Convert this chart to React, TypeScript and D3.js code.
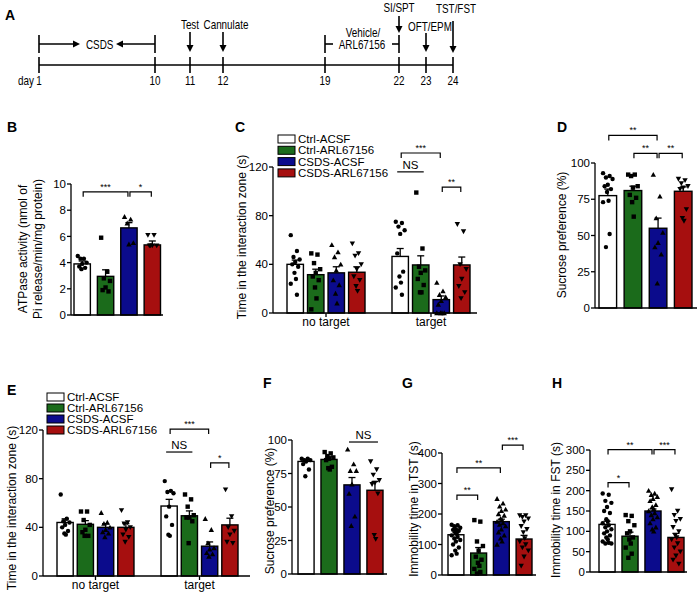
import React from "react";
import * as d3 from "d3";

const FONT = "'Liberation Sans', Arial, Helvetica, sans-serif";

const groupNames = ["Ctrl-ACSF", "Ctrl-ARL67156", "CSDS-ACSF", "CSDS-ARL67156"];
const groupColors = ["#ffffff", "#1b6b1b", "#0b0b8c", "#a60f0f"];
const groupShapes = ["circle", "square", "triUp", "triDown"];

// ---- Panel A timeline
const timelineDays = [1, 10, 11, 12, 19, 22, 23, 24];
const timelineLayout = [39, 155, 190, 223, 325, 399, 426, 453];

// ---- Panel B
const bMeans = [3.9, 2.95, 6.65, 5.35];
const bSems = [0.22, 0.5, 0.4, 0.3];
const bPoints = [
  [4.5, 4.3, 4.3, 4.0, 3.9, 3.7, 3.6, 3.5],
  [5.9, 3.3, 2.8, 2.6, 2.1, 1.9, 1.8],
  [7.5, 7.3, 7.0, 5.5, 5.4],
  [6.1, 6.1, 5.3, 5.3, 5.3, 5.3],
];
const bTicks = [0, 2, 4, 6, 8, 10];

// ---- Panel C
const cNoTargetMeans = [40, 31.5, 33, 33.5];
const cNoTargetSems = [3.5, 4.5, 5, 4.5];
const cNoTargetPoints = [
  [64, 51, 46, 44, 42, 40, 38, 33, 28, 24, 15],
  [49, 48, 41, 36, 33, 30, 27, 21, 12, 3],
  [56, 50, 46, 40, 35, 27, 23, 16, 8],
  [57, 49, 47, 40, 36, 30, 27, 22, 18],
];
const cTargetMeans = [46.5, 39.5, 11, 39.5];
const cTargetSems = [6.5, 7.5, 3, 6.5];
const cTargetPoints = [
  [75, 74, 71, 68, 65, 49, 34, 30, 25, 21, 15],
  [99, 53, 38, 35, 33, 28, 23, 17, 17],
  [25, 18, 15, 13, 10, 7, 0, 0, 0, 0],
  [73, 67, 40, 36, 28, 22, 17, 12],
];
const interactionTicks = [0, 40, 80, 120];

// ---- Panel D
const dMeans = [77.5, 81, 55, 80.5];
const dSems = [4.5, 3, 7, 3];
const dPoints = [
  [93, 91, 90, 89, 85, 84, 82, 80, 74, 73, 51, 42],
  [92, 92, 91, 84, 83, 78, 76, 73, 63],
  [92, 77, 62, 52, 45, 42, 37, 17],
  [89, 88, 86, 84, 83, 82, 68, 62, 60],
];
const sucroseTicks = [0, 25, 50, 75, 100];

// ---- Panel E
const eNoTargetMeans = [44, 42.5, 40, 40];
const eNoTargetSems = [3, 3, 3, 3];
const eNoTargetPoints = [
  [67, 47, 45, 44, 42, 40, 37, 35, 34],
  [53, 53, 46, 42, 38, 36, 33, 33],
  [52, 44, 43, 40, 38, 36, 35, 32],
  [54, 44, 43, 40, 38, 34, 32, 28],
];
const eTargetMeans = [57.5, 49.5, 24.5, 42];
const eTargetSems = [5.5, 4, 3.5, 5.5];
const eTargetPoints = [
  [78, 70, 69, 68, 57, 49, 42, 34, 33],
  [67, 63, 57, 50, 48, 48, 45, 27],
  [47, 38, 27, 23, 22, 19, 18, 16],
  [71, 49, 40, 37, 34, 28, 27],
];

// ---- Panel F
const fMeans = [84, 85.5, 66.5, 62.5];
const fSems = [1.5, 2, 5.5, 6.5];
const fPoints = [
  [86, 86, 85, 85, 84, 82, 78, 73],
  [91, 90, 88, 87, 86, 85, 80, 79, 78],
  [93, 82, 77, 77, 67, 60, 43, 36],
  [84, 78, 74, 70, 68, 67, 60, 29, 26],
];

// ---- Panel G
const gMeans = [132, 72, 175, 118];
const gSems = [7, 18, 8, 12];
const gPoints = [
  [165, 163, 160, 155, 150, 148, 145, 140, 135, 130, 125, 120, 115, 110, 100, 90, 80, 70, 65],
  [180, 175, 110, 95, 80, 60, 50, 40, 30, 20, 10, 5],
  [250, 235, 225, 215, 210, 200, 195, 185, 180, 175, 170, 165, 160, 150, 140, 130, 120, 110, 100],
  [195, 195, 190, 185, 175, 160, 150, 140, 120, 110, 100, 90, 80, 60, 30],
];
const gTicks = [0, 100, 200, 300, 400];

// ---- Panel H
const hMeans = [117, 88, 150, 85];
const hSems = [8, 10, 5, 10];
const hPoints = [
  [193, 190, 175, 170, 160, 150, 145, 130, 125, 120, 115, 110, 105, 100, 95, 90, 85, 80, 75, 72, 70, 70],
  [140, 138, 125, 115, 100, 95, 85, 80, 70, 60, 45, 35],
  [200, 193, 190, 185, 180, 175, 165, 160, 155, 150, 145, 140, 135, 130, 120, 110, 105, 100],
  [203, 150, 140, 130, 125, 110, 100, 90, 85, 80, 70, 60, 50, 40, 30, 20],
];
const hTicks = [0, 50, 100, 150, 200, 250, 300];

type Cluster = { label: string; means: number[]; sems: number[]; points: number[][] };
type Sig = { cluster: number; a: number; b: number; level: number; text: string; ns?: boolean };

const jitter = [-0.9, 0.35, -0.35, 0.9, 0, -0.6, 0.6, -0.15, 0.15];

function Marker({ shape, cx, cy }: { shape: string; cx: number; cy: number }) {
  if (shape === "circle") return <circle cx={cx} cy={cy} r={2.2} fill="#000" />;
  if (shape === "square") return <rect x={cx - 2.2} y={cy - 2.2} width={4.4} height={4.4} fill="#000" />;
  const s = 2.7;
  if (shape === "triUp")
    return <path d={`M${cx},${cy - s}L${cx + s},${cy + s * 0.8}L${cx - s},${cy + s * 0.8}Z`} fill="#000" />;
  return <path d={`M${cx},${cy + s}L${cx + s},${cy - s * 0.8}L${cx - s},${cy - s * 0.8}Z`} fill="#000" />;
}

type PanelProps = {
  letter: string;
  letterPos: [number, number];
  axisX: number;
  axisEnd: number;
  y0: number;
  yTopPx: number;
  max: number;
  ticks: number[];
  clusterRange: [number, number];
  clusterPad: number;
  groupPad: number;
  clusters: Cluster[];
  sigs: Sig[];
  ylabel: string[];
  ylabelPos: [number, number];
  ylabelGap?: number;
  ylabelSize?: number;
  legend?: { x: number; y: number; row: number };
};

function BarPanel(p: PanelProps) {
  const y = d3.scaleLinear().domain([0, p.max]).range([p.y0, p.yTopPx]);
  const xc = d3
    .scaleBand<number>()
    .domain(p.clusters.map((_, i) => i))
    .range(p.clusterRange)
    .paddingInner(p.clusterPad);
  const xg = d3
    .scaleBand<number>()
    .domain(groupNames.map((_, i) => i))
    .range([0, xc.bandwidth()])
    .paddingInner(p.groupPad);
  const bw = xg.bandwidth();
  const center = (c: number, g: number) => (xc(c) ?? 0) + (xg(g) ?? 0) + bw / 2;
  const ylSize = p.ylabelSize ?? 12;
  return (
    <g fontFamily={FONT}>
      <text x={p.letterPos[0]} y={p.letterPos[1]} fontSize={14} fontWeight="bold">
        {p.letter}
      </text>
      {p.ylabel.map((line, i) => (
        <text
          key={i}
          transform={`translate(${p.ylabelPos[0] + i * (p.ylabelGap ?? 14)},${p.ylabelPos[1]}) rotate(-90)`}
          textAnchor="middle"
          dy="0.35em"
          fontSize={ylSize}
        >
          {line}
        </text>
      ))}
      <line x1={p.axisX} x2={p.axisX} y1={p.y0} y2={y(p.max)} stroke="#000" strokeWidth={1.3} />
      {p.ticks.map((t) => (
        <g key={t}>
          <line x1={p.axisX - 4} x2={p.axisX} y1={y(t)} y2={y(t)} stroke="#000" strokeWidth={1.3} />
          <text x={p.axisX - 5} y={y(t)} dy="0.36em" textAnchor="end" fontSize={11.5}>
            {t}
          </text>
        </g>
      ))}
      {p.clusters.map((cl, ci) => (
        <g key={ci}>
          {cl.means.map((m, gi) => {
            const x = (xc(ci) ?? 0) + (xg(gi) ?? 0);
            const cx = x + bw / 2;
            return (
              <g key={gi}>
                <rect
                  x={x}
                  y={y(m)}
                  width={bw}
                  height={p.y0 - y(m)}
                  fill={groupColors[gi]}
                  stroke="#000"
                  strokeWidth={1.4}
                />
                <line x1={cx} x2={cx} y1={y(m)} y2={y(m + cl.sems[gi])} stroke="#000" strokeWidth={1.3} />
                <line
                  x1={cx - 3.5}
                  x2={cx + 3.5}
                  y1={y(m + cl.sems[gi])}
                  y2={y(m + cl.sems[gi])}
                  stroke="#000"
                  strokeWidth={1.3}
                />
                {[...cl.points[gi]]
                  .sort((a, b) => b - a)
                  .map((v, k) => (
                    <Marker
                      key={k}
                      shape={groupShapes[gi]}
                      cx={cx + jitter[k % jitter.length] * bw * 0.3}
                      cy={y(v)}
                    />
                  ))}
              </g>
            );
          })}
          {cl.label && (
            <g>
              <line
                x1={(xc(ci) ?? 0) + xc.bandwidth() / 2}
                x2={(xc(ci) ?? 0) + xc.bandwidth() / 2}
                y1={p.y0}
                y2={p.y0 + 4}
                stroke="#000"
                strokeWidth={1.3}
              />
              <text
                x={(xc(ci) ?? 0) + xc.bandwidth() / 2}
                y={p.y0 + 13}
                textAnchor="middle"
                fontSize={12}
              >
                {cl.label}
              </text>
            </g>
          )}
        </g>
      ))}
      <line x1={p.axisX} x2={p.axisEnd} y1={p.y0} y2={p.y0} stroke="#000" strokeWidth={1.3} />
      {p.sigs.map((s, i) => {
        const yy = y(s.level);
        if (s.ns) {
          const x1 = center(s.cluster, s.a) - 3;
          const x2 = center(s.cluster, s.b) + 3;
          return (
            <g key={i}>
              <line x1={x1} x2={x2} y1={yy} y2={yy} stroke="#000" strokeWidth={1.2} />
              <text x={(x1 + x2) / 2} y={yy - 3} textAnchor="middle" fontSize={11.5}>
                {s.text}
              </text>
            </g>
          );
        }
        const x1 = center(s.cluster, s.a) + 1;
        const x2 = center(s.cluster, s.b) - 1;
        return (
          <g key={i}>
            <path d={`M${x1},${yy + 5}V${yy}H${x2}V${yy + 5}`} fill="none" stroke="#000" strokeWidth={1.2} />
            <text x={(x1 + x2) / 2} y={yy - 2} textAnchor="middle" fontSize={9}>
              {s.text}
            </text>
          </g>
        );
      })}
      {p.legend &&
        groupNames.map((n, i) => (
          <g key={n}>
            <rect
              x={p.legend!.x}
              y={p.legend!.y + i * p.legend!.row - 4}
              width={17}
              height={8}
              fill={groupColors[i]}
              stroke="#000"
              strokeWidth={1}
            />
            <text x={p.legend!.x + 20} y={p.legend!.y + i * p.legend!.row} dy="0.35em" fontSize={11.5}>
              {n}
            </text>
          </g>
        ))}
    </g>
  );
}

function Arrow({ x, y1, y2 }: { x: number; y1: number; y2: number }) {
  return (
    <g>
      <line x1={x} x2={x} y1={y1} y2={y2 - 6} stroke="#000" strokeWidth={1.6} />
      <path d={`M${x - 3.5},${y2 - 7}L${x + 3.5},${y2 - 7}L${x},${y2}Z`} fill="#000" />
    </g>
  );
}

// condensed text (the figure's lettering is horizontally compressed)
function CT({ x, y, anchor = "middle", children }: { x: number; y: number; anchor?: string; children: React.ReactNode }) {
  return (
    <text transform={`translate(${x},${y}) scale(0.79,1)`} textAnchor={anchor as any}>
      {children}
    </text>
  );
}

function Timeline() {
  const x = d3.scaleLinear().domain(timelineDays).range(timelineLayout);
  const lineY = 65;
  const bracketY = 44;
  return (
    <g fontFamily={FONT} fontSize={12.5}>
      <text x={5} y={20} fontSize={14} fontWeight="bold">
        A
      </text>
      <line x1={x(1)} x2={x(24)} y1={lineY} y2={lineY} stroke="#000" strokeWidth={1.6} />
      {timelineDays.map((d) => (
        <g key={d}>
          <line x1={x(d)} x2={x(d)} y1={lineY - 8} y2={lineY + 8} stroke="#000" strokeWidth={1.6} />
          <CT x={x(d)} y={84.5}>
            {d}
          </CT>
        </g>
      ))}
      <CT x={x(1) - 5} y={84.5} anchor="end">
        day
      </CT>
      <line x1={x(1)} x2={x(1)} y1={bracketY - 9} y2={bracketY + 9} stroke="#000" strokeWidth={1.6} />
      <line x1={x(10)} x2={x(10)} y1={bracketY - 9} y2={bracketY + 9} stroke="#000" strokeWidth={1.6} />
      <line x1={x(1)} x2={x(1) + 36} y1={bracketY} y2={bracketY} stroke="#000" strokeWidth={1.6} />
      <path d={`M${x(1) + 34},${bracketY - 3.5}L${x(1) + 41},${bracketY}L${x(1) + 34},${bracketY + 3.5}Z`} fill="#000" />
      <CT x={x(1) + 47} y={bracketY + 4.5} anchor="start">
        CSDS
      </CT>
      <line x1={x(10)} x2={x(10) - 36} y1={bracketY} y2={bracketY} stroke="#000" strokeWidth={1.6} />
      <path d={`M${x(10) - 32},${bracketY - 3.5}L${x(10) - 39},${bracketY}L${x(10) - 32},${bracketY + 3.5}Z`} fill="#000" />
      <line x1={x(19)} x2={x(19)} y1={bracketY - 9} y2={bracketY + 9} stroke="#000" strokeWidth={1.6} />
      <line x1={x(22)} x2={x(22)} y1={bracketY - 9} y2={bracketY + 9} stroke="#000" strokeWidth={1.6} />
      <line x1={x(19)} x2={x(19) + 8} y1={bracketY} y2={bracketY} stroke="#000" strokeWidth={1.6} />
      <line x1={x(22) - 7} x2={x(22)} y1={bracketY} y2={bracketY} stroke="#000" strokeWidth={1.6} />
      <CT x={363} y={36.5}>
        Vehicle/
      </CT>
      <CT x={362} y={49}>
        ARL67156
      </CT>
      <CT x={x(11)} y={29}>
        Test
      </CT>
      <Arrow x={x(11)} y1={32} y2={52} />
      <CT x={x(12) + 3} y={29}>
        Cannulate
      </CT>
      <Arrow x={x(12)} y1={32} y2={52} />
      <CT x={x(22)} y={12}>
        SI/SPT
      </CT>
      <Arrow x={x(22)} y1={16} y2={33} />
      <CT x={x(23) + 4} y={31}>
        OFT/EPM
      </CT>
      <Arrow x={x(23)} y1={33} y2={52} />
      <CT x={x(24) + 3} y={13}>
        TST/FST
      </CT>
      <Arrow x={x(24)} y1={21} y2={53} />
    </g>
  );
}

export default function App() {
  return (
    <svg
      width={699}
      height={597}
      style={{ position: "absolute", left: 0, top: 0, background: "#fff" }}
    >
      <rect width={699} height={597} fill="#fff" />
      <Timeline />
      <BarPanel
        letter="B"
        letterPos={[7, 132]}
        axisX={71}
        axisEnd={163}
        y0={315}
        yTopPx={184}
        max={10}
        ticks={bTicks}
        clusterRange={[74, 160.5]}
        clusterPad={0}
        groupPad={0.3}
        clusters={[{ label: "", means: bMeans, sems: bSems, points: bPoints }]}
        sigs={[
          { cluster: 0, a: 0, b: 2, level: 9.4, text: "***" },
          { cluster: 0, a: 2, b: 3, level: 9.4, text: "*" },
        ]}
        ylabel={["ATPase activity (nmol of", "Pi release/min/mg  protein)"]}
        ylabelPos={[23, 249]}
        ylabelGap={15}
      />
      <BarPanel
        letter="C"
        letterPos={[235, 132]}
        axisX={273}
        axisEnd={477}
        y0={313}
        yTopPx={167}
        max={120}
        ticks={interactionTicks}
        clusterRange={[287, 470]}
        clusterPad={0.257}
        groupPad={0.2}
        clusters={[
          { label: "no target", means: cNoTargetMeans, sems: cNoTargetSems, points: cNoTargetPoints },
          { label: "target", means: cTargetMeans, sems: cTargetSems, points: cTargetPoints },
        ]}
        sigs={[
          { cluster: 1, a: 0, b: 2, level: 131.5, text: "***" },
          { cluster: 1, a: 0, b: 1, level: 116, text: "NS", ns: true },
          { cluster: 1, a: 2, b: 3, level: 103.5, text: "**" },
        ]}
        ylabel={["Time in the interaction zone (s)"]}
        ylabelPos={[242, 237]}
        legend={{ x: 278, y: 139, row: 11.3 }}
      />
      <BarPanel
        letter="D"
        letterPos={[557, 132]}
        axisX={595}
        axisEnd={697}
        y0={308}
        yTopPx={163}
        max={100}
        ticks={sucroseTicks}
        clusterRange={[599, 692]}
        clusterPad={0}
        groupPad={0.3}
        clusters={[{ label: "", means: dMeans, sems: dSems, points: dPoints }]}
        sigs={[
          { cluster: 0, a: 0, b: 2, level: 119, text: "**" },
          { cluster: 0, a: 1, b: 2, level: 106.7, text: "**" },
          { cluster: 0, a: 2, b: 3, level: 106.7, text: "**" },
        ]}
        ylabel={["Sucrose preference (%)"]}
        ylabelPos={[562, 235]}
      />
      <BarPanel
        letter="E"
        letterPos={[7, 395]}
        axisX={43}
        axisEnd={250}
        y0={576}
        yTopPx={430}
        max={120}
        ticks={interactionTicks}
        clusterRange={[57, 238]}
        clusterPad={0.26}
        groupPad={0.2}
        clusters={[
          { label: "no target", means: eNoTargetMeans, sems: eNoTargetSems, points: eNoTargetPoints },
          { label: "target", means: eTargetMeans, sems: eTargetSems, points: eTargetPoints },
        ]}
        sigs={[
          { cluster: 1, a: 0, b: 2, level: 120.8, text: "***" },
          { cluster: 1, a: 0, b: 1, level: 101.9, text: "NS", ns: true },
          { cluster: 1, a: 2, b: 3, level: 92.9, text: "*" },
        ]}
        ylabel={["Time in the interaction zone (s)"]}
        ylabelPos={[12, 508]}
        legend={{ x: 47, y: 397, row: 11 }}
      />
      <BarPanel
        letter="F"
        letterPos={[263, 388]}
        axisX={292}
        axisEnd={387}
        y0={574}
        yTopPx={440}
        max={100}
        ticks={sucroseTicks}
        clusterRange={[298, 383]}
        clusterPad={0}
        groupPad={0.3}
        clusters={[{ label: "", means: fMeans, sems: fSems, points: fPoints }]}
        sigs={[{ cluster: 0, a: 2, b: 3, level: 98.5, text: "NS", ns: true }]}
        ylabel={["Sucrose preference (%)"]}
        ylabelPos={[270, 511]}
      />
      <BarPanel
        letter="G"
        letterPos={[402, 388]}
        axisX={442}
        axisEnd={536}
        y0={575}
        yTopPx={453}
        max={400}
        ticks={gTicks}
        clusterRange={[448, 532]}
        clusterPad={0}
        groupPad={0.3}
        clusters={[{ label: "", means: gMeans, sems: gSems, points: gPoints }]}
        sigs={[
          { cluster: 0, a: 0, b: 1, level: 262, text: "**" },
          { cluster: 0, a: 0, b: 2, level: 351, text: "**" },
          { cluster: 0, a: 2, b: 3, level: 426, text: "***" },
        ]}
        ylabel={["Immobility time in TST (s)"]}
        ylabelPos={[414, 509]}
      />
      <BarPanel
        letter="H"
        letterPos={[552, 388]}
        axisX={590}
        axisEnd={687}
        y0={572}
        yTopPx={450}
        max={300}
        ticks={hTicks}
        clusterRange={[599, 684]}
        clusterPad={0}
        groupPad={0.3}
        clusters={[{ label: "", means: hMeans, sems: hSems, points: hPoints }]}
        sigs={[
          { cluster: 0, a: 0, b: 2, level: 301, text: "**" },
          { cluster: 0, a: 2, b: 3, level: 301, text: "***" },
          { cluster: 0, a: 0, b: 1, level: 220, text: "*" },
        ]}
        ylabel={["Immobility time in FST (s)"]}
        ylabelPos={[556, 510]}
      />
    </svg>
  );
}
